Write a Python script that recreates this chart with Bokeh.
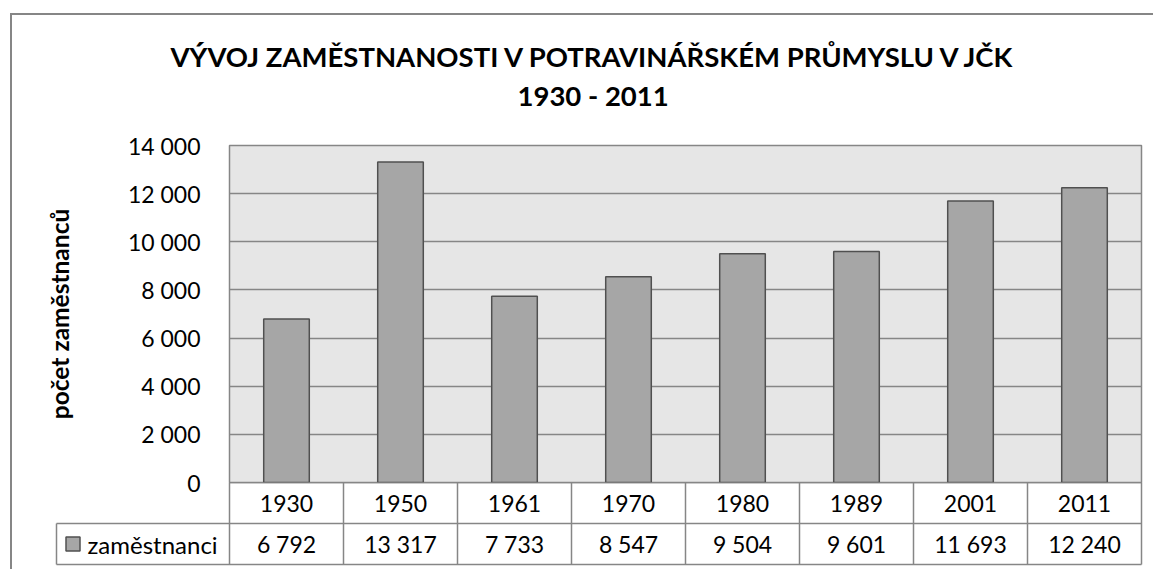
from bokeh.plotting import figure
from bokeh.models import Range1d, FactorRange, FixedTicker, Title
from bokeh.layouts import column
from bokeh.embed import file_html
from bokeh.resources import INLINE
from bokeh.core.properties import value

# ---- data ----
years = ["1930", "1950", "1961", "1970", "1980", "1989", "2001", "2011"]
employees = [6792, 13317, 7733, 8547, 9504, 9601, 11693, 12240]
y_ticks = [0, 2000, 4000, 6000, 8000, 10000, 12000, 14000]
y_tick_labels = ["0", "2 000", "4 000", "6 000", "8 000", "10 000", "12 000", "14 000"]
series_name = "zaměstnanci"
title_line1 = "VÝVOJ ZAMĚSTNANOSTI V POTRAVINÁŘSKÉM PRŮMYSLU V JČK"
title_line2 = "1930 - 2011"
y_label = "počet zaměstnanců"

# ---- style ----
FONT = "Lato"
GRID = "#868686"
PLOT_BG = "#e6e6e6"
BAR_FILL = "#a6a6a6"
BAR_LINE = "#505050"
TXT_SIZE = "23px"
TITLE_SIZE = "27.5px"

W = 1141             # figure width (inside the chart border)
CAT_W = 114          # px per category
FRAME_LEFT = 217     # px from figure left
FRAME_TOP = 130
OVERLAP = 14         # room below the plot area for the "0" tick label
HA = 467 + OVERLAP
HB = 87
ROW_H = 41


def fmt(v):
    return f"{v:,}".replace(",", " ")


# ---- main chart ----
pa = figure(width=W, height=HA, x_range=FactorRange(factors=years),
            y_range=Range1d(y_ticks[0], y_ticks[-1]),
            output_backend="svg", toolbar_location=None, title=None,
            x_axis_location=None,
            min_border_left=FRAME_LEFT, min_border_right=12,
            min_border_top=FRAME_TOP, min_border_bottom=OVERLAP)
pa.frame_align = False
pa.background_fill_color = PLOT_BG
pa.border_fill_color = "white"
pa.outline_line_color = GRID
pa.outline_line_width = 1.5

ya = pa.yaxis[0]
ya.ticker = FixedTicker(ticks=y_ticks)
ya.major_label_overrides = dict(zip(y_ticks, y_tick_labels))
ya.axis_line_color = None
ya.major_tick_line_color = None
ya.minor_tick_line_color = None
ya.major_tick_out = 0
ya.major_tick_in = 0
ya.major_label_standoff = 29
ya.major_label_text_font = FONT
ya.major_label_text_font_size = TXT_SIZE
ya.major_label_text_color = "black"
ya.axis_label = y_label
ya.axis_label_text_font = FONT
ya.axis_label_text_font_size = "24.5px"
ya.axis_label_text_font_style = "bold"
ya.axis_label_text_color = "black"
ya.axis_label_standoff = 51

pa.xgrid.visible = False
pa.ygrid.grid_line_color = GRID
pa.ygrid.grid_line_width = 1.5

pa.vbar(x=years, top=employees, width=0.4, fill_color=BAR_FILL,
        line_color=BAR_LINE, line_width=1.5)

# spacer between plot area and title lines
pa.add_layout(Title(text=" ", text_font_size="2px", standoff=25), "above")
pa.add_layout(Title(text=title_line2, align="left", offset=288, text_font=FONT,
                    text_font_size=TITLE_SIZE, text_font_style="bold",
                    text_color="black", standoff=9), "above")
pa.add_layout(Title(text=title_line1, align="left", offset=-59, text_font=FONT,
                    text_font_size=TITLE_SIZE, text_font_style="bold",
                    text_color="black", standoff=0), "above")

# ---- data table ----
n = len(years)
leg_left = -173 / CAT_W
pb = figure(width=W, height=HB,
            x_range=Range1d(-175 / CAT_W, n + 4 / CAT_W),
            y_range=Range1d(0, HB),
            output_backend="svg", toolbar_location=None, title=None,
            x_axis_location=None, y_axis_location=None,
            min_border_left=FRAME_LEFT - 175, min_border_right=8,
            min_border_top=0, min_border_bottom=0,
            styles={"margin-top": f"-{OVERLAP}px"})
pb.frame_align = False
pb.outline_line_color = None
pb.grid.visible = False
pb.background_fill_color = None
pb.border_fill_color = None

top_y = HB
mid_y = HB - ROW_H
bot_y = HB - 2 * ROW_H

vx = list(range(n + 1))
pb.segment(x0=vx, y0=[bot_y] * len(vx), x1=vx, y1=[top_y] * len(vx),
           line_color=GRID, line_width=1.5)
pb.segment(x0=[leg_left, leg_left, leg_left, 0], y0=[bot_y, mid_y, bot_y, top_y],
           x1=[leg_left, n, n, n], y1=[mid_y, mid_y, bot_y, top_y],
           line_color=GRID, line_width=1.5)

cx = [i + 0.5 for i in range(n)]
pb.text(x=cx, y=[(top_y + mid_y) / 2] * n, text=years, text_align="center",
        text_baseline="middle", text_font=value(FONT), text_font_size=TXT_SIZE,
        text_color="black")
pb.text(x=cx, y=[(mid_y + bot_y) / 2] * n, text=[fmt(v) for v in employees],
        text_align="center", text_baseline="middle", text_font=value(FONT),
        text_font_size=TXT_SIZE, text_color="black")

pb.scatter(x=[leg_left + 16.5 / CAT_W], y=[(mid_y + bot_y) / 2], marker="square",
           size=14, fill_color=BAR_FILL, line_color=BAR_LINE, line_width=1.5)
pb.text(x=[leg_left + 31 / CAT_W], y=[(mid_y + bot_y) / 2], text=[series_name],
        text_align="left", text_baseline="middle", text_font=value(FONT),
        text_font_size="24px", text_color="black")

layout = column(pa, pb, spacing=0,
                styles={"border-top": f"2px solid {GRID}",
                        "border-left": f"2px solid {GRID}",
                        "margin-top": "13px", "margin-left": "10px"})

open("out.html", "w").write(file_html(layout, INLINE))
